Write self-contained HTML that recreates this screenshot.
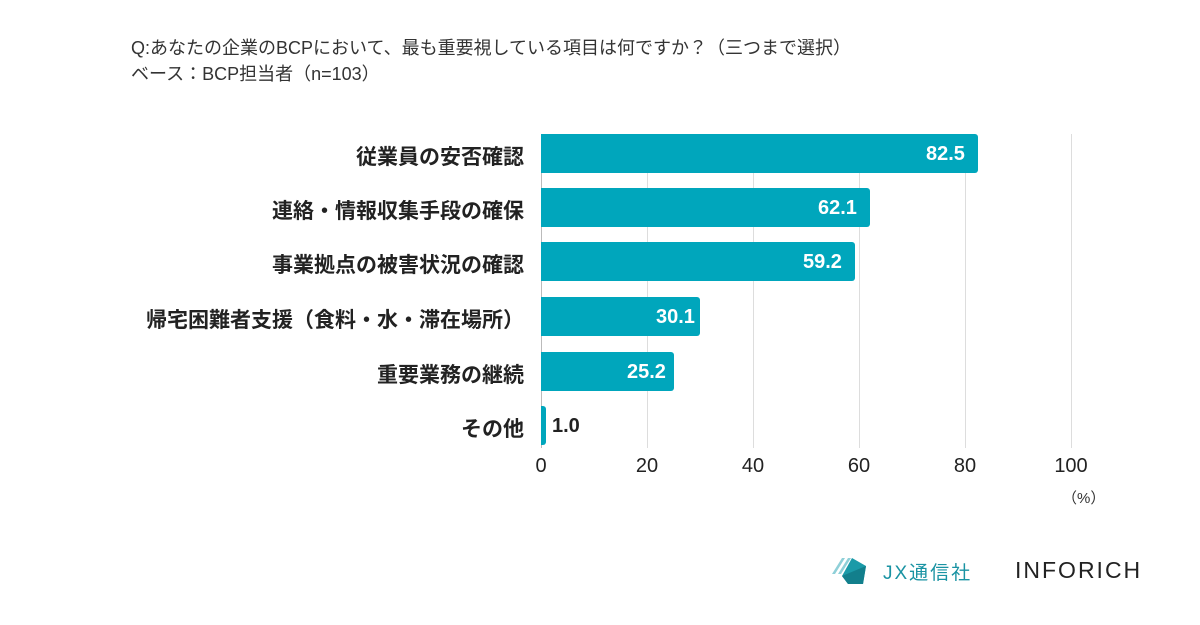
<!DOCTYPE html>
<html><head><meta charset="utf-8"><style>
body{margin:0;width:1200px;height:625px;background:#fff;position:relative;font-family:"Liberation Sans","Noto Sans CJK JP",sans-serif;overflow:hidden}
.t{position:absolute;white-space:nowrap}
.cat{position:absolute;right:676px;font-weight:bold;font-size:21px;color:#222;white-space:nowrap}
.bar{position:absolute;left:541px;height:39px;background:#00a6bc;border-radius:0 3px 3px 0}
.v{position:absolute;font-weight:bold;font-size:20px;color:#fff}
.g{position:absolute;top:134px;height:314px;width:1px;background:#ddd}
.tk{position:absolute;top:455px;font-size:20px;color:#222;width:60px;text-align:center}
</style></head><body>
<div class="t" style="left:131px;top:34px;font-size:18px;color:#333">Q:あなたの企業のBCPにおいて、最も重要視している項目は何ですか？（三つまで選択）</div>
<div class="t" style="left:131px;top:60px;font-size:18px;color:#333">ベース：BCP担当者（n=103）</div>
<div class="g" style="left:541px;background:#bbb"></div><div class="g" style="left:647px"></div><div class="g" style="left:753px"></div><div class="g" style="left:859px"></div><div class="g" style="left:965px"></div><div class="g" style="left:1071px"></div>
<div class="cat" style="top:141px">従業員の安否確認</div>
<div class="cat" style="top:195px">連絡・情報収集手段の確保</div>
<div class="cat" style="top:249px">事業拠点の被害状況の確認</div>
<div class="cat" style="top:304px">帰宅困難者支援（食料・水・滞在場所）</div>
<div class="cat" style="top:359px">重要業務の継続</div>
<div class="cat" style="top:413px">その他</div>
<div class="bar" style="top:134px;width:437px"></div><div class="v" style="top:143px;left:926px">82.5</div>
<div class="bar" style="top:188px;width:329px"></div><div class="v" style="top:197px;left:818px">62.1</div>
<div class="bar" style="top:242px;width:314px"></div><div class="v" style="top:251px;left:803px">59.2</div>
<div class="bar" style="top:297px;width:159px"></div><div class="v" style="top:306px;left:656px">30.1</div>
<div class="bar" style="top:352px;width:133px"></div><div class="v" style="top:361px;left:627px">25.2</div>
<div class="bar" style="top:406px;width:5px"></div><div class="v" style="top:415px;left:552px;color:#222">1.0</div>
<div class="tk" style="left:511px">0</div><div class="tk" style="left:617px">20</div><div class="tk" style="left:723px">40</div><div class="tk" style="left:829px">60</div><div class="tk" style="left:935px">80</div><div class="tk" style="left:1041px">100</div>
<div class="t" style="left:1062px;top:487px;font-size:15px;color:#333">（%）</div>
<svg style="position:absolute;left:830px;top:552px" width="40" height="36"><polygon points="2,22 12,6 15,6 5,22" fill="#8fd0d8"/><polygon points="8,22 18,6 21,6 11,22" fill="#8fd0d8"/><polygon points="22,6 36,14 33,32 18,32 12,24" fill="#1a9aa8"/><polygon points="12,24 36,14 33,32 18,32" fill="#127f8c"/></svg>
<div class="t" style="left:883px;top:558px;font-size:19px;color:#1a93a3;letter-spacing:2px">JX通信社</div>
<div class="t" style="left:1015px;top:557px;font-size:23px;color:#222;letter-spacing:2px">INFORICH</div>
</body></html>
